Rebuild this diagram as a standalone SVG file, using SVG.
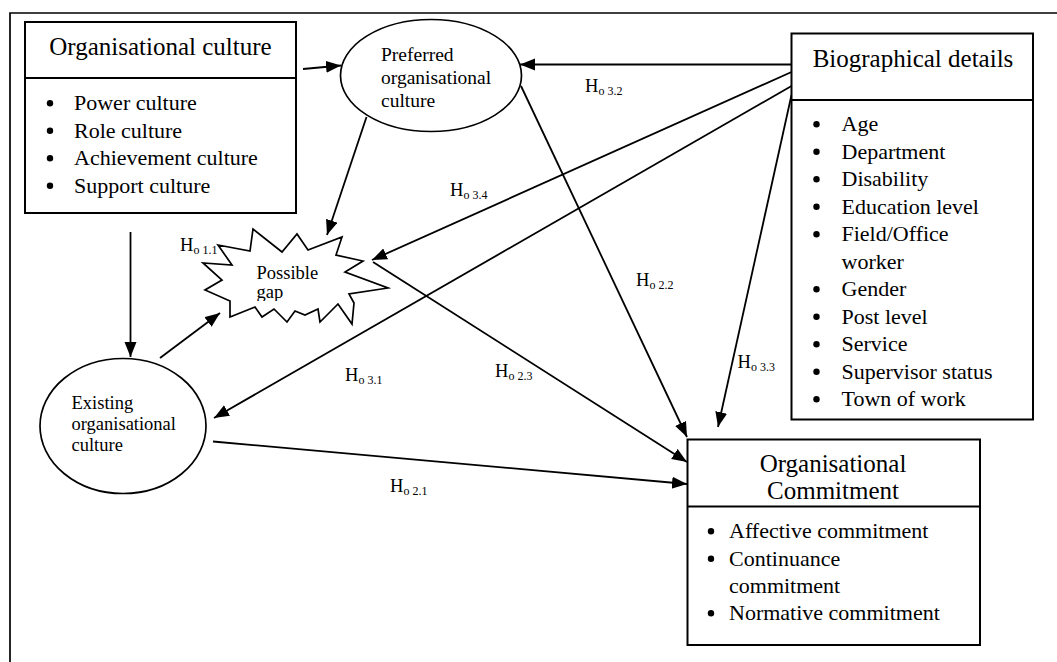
<svg xmlns="http://www.w3.org/2000/svg" width="1057" height="662" viewBox="0 0 1057 662">
  <defs>
    <marker id="arrow" markerUnits="userSpaceOnUse" markerWidth="16" markerHeight="13" refX="15" refY="6" orient="auto">
      <path d="M0,0 L15,6 L0,12 Z" fill="#000"/>
    </marker>
    <clipPath id="gapClip">
      <rect x="240" y="255" width="120" height="46"/>
    </clipPath>
  </defs>
  <style>
    text { font-family: "Liberation Serif", "Times New Roman", serif; fill: #000; }
    .box { fill: #fff; stroke: #000; stroke-width: 2; }
    .shape { fill: #fff; stroke: #000; stroke-width: 1.7; }
    .rule { stroke: #000; stroke-width: 2; }
    .title { font-size: 25px; }
    .item { font-size: 22px; }
    .dot { fill: #000; }
    .oval { font-size: 19.5px; }
    .oval-s { font-size: 18.5px; }
    .hyp { font-size: 18.5px; }
    .sub { font-size: 12px; }
    .link { fill: none; stroke: #000; stroke-width: 1.8; marker-end: url(#arrow); }
  </style>

  <rect width="1057" height="662" fill="#fff"/>
  <!-- frame -->
  <path d="M10,662 V13 H1057" fill="none" stroke="#000" stroke-width="1.7"/>

  <!-- connectors -->
  <g id="connectors">
    <line class="link" x1="303" y1="69" x2="341" y2="65.5"/>
    <line class="link" x1="791.5" y1="64.5" x2="520" y2="64.5"/>
    <line class="link" x1="791.5" y1="72" x2="372" y2="260"/>
    <line class="link" x1="791.5" y1="86" x2="214" y2="418"/>
    <line class="link" x1="791.5" y1="95" x2="718" y2="427"/>
    <line class="link" x1="366.5" y1="117" x2="327" y2="235"/>
    <line class="link" x1="521" y1="86" x2="687" y2="437"/>
    <line class="link" x1="373" y1="262" x2="687" y2="462"/>
    <line class="link" x1="213" y1="441.5" x2="687" y2="484"/>
    <line class="link" x1="130.5" y1="232" x2="130.5" y2="357"/>
    <line class="link" x1="160" y1="358" x2="220" y2="313"/>
  </g>

  <!-- hypothesis labels -->
  <g id="labels">
    <text class="hyp" x="585" y="91.5">H<tspan class="sub" dy="3">o 3.2</tspan></text>
    <text class="hyp" x="450" y="195.5">H<tspan class="sub" dy="3">o 3.4</tspan></text>
    <text class="hyp" x="180" y="251">H<tspan class="sub" dy="3">o 1.1</tspan></text>
    <text class="hyp" x="636" y="286">H<tspan class="sub" dy="3">o 2.2</tspan></text>
    <text class="hyp" x="495" y="376.5">H<tspan class="sub" dy="3">o 2.3</tspan></text>
    <text class="hyp" x="345" y="380.5">H<tspan class="sub" dy="3">o 3.1</tspan></text>
    <text class="hyp" x="737.5" y="368">H<tspan class="sub" dy="3">o 3.3</tspan></text>
    <text class="hyp" x="390" y="491.5">H<tspan class="sub" dy="3">o 2.1</tspan></text>
  </g>

  <!-- Organisational culture -->
  <g id="org-culture">
    <rect class="box" x="25" y="22" width="271" height="191"/>
    <line class="rule" x1="25" y1="78" x2="296" y2="78"/>
    <text class="title" x="160.5" y="55" text-anchor="middle">Organisational culture</text>
    <g class="dot">
      <circle cx="50" cy="103.3" r="3.2"/>
      <circle cx="50" cy="130.8" r="3.2"/>
      <circle cx="50" cy="158.3" r="3.2"/>
      <circle cx="50" cy="185.8" r="3.2"/>
    </g>
    <g class="item">
      <text x="74" y="110">Power culture</text>
      <text x="74" y="137.5">Role culture</text>
      <text x="74" y="165">Achievement culture</text>
      <text x="74" y="192.5">Support culture</text>
    </g>
  </g>

  <!-- Preferred organisational culture -->
  <g id="preferred-culture">
    <ellipse class="shape" cx="431" cy="75.5" rx="90.5" ry="56"/>
    <text class="oval" x="381" y="61">Preferred</text>
    <text class="oval" x="381" y="84">organisational</text>
    <text class="oval" x="381" y="107">culture</text>
  </g>

  <!-- Possible gap -->
  <g id="possible-gap">
    <polygon class="shape" points="218,245 250,251 253,229 282,252 297,234 308,250 342,237 336,255 363,261 345,272 388,288 349,294 354,303 352,324 338,304 320,322 318,309 305,315 295,311 287,322 274,309 262,317 255,307 230,317 230,301 205,290 222,280 203,263 232,265"/>
    <g clip-path="url(#gapClip)">
      <text class="oval-s" x="256.5" y="279">Possible</text>
      <text class="oval-s" x="256.5" y="298">gap</text>
    </g>
  </g>

  <!-- Existing organisational culture -->
  <g id="existing-culture">
    <ellipse class="shape" cx="123" cy="426" rx="83" ry="67.5"/>
    <text class="oval-s" x="71.5" y="409">Existing</text>
    <text class="oval-s" x="71.5" y="430">organisational</text>
    <text class="oval-s" x="71.5" y="450.5">culture</text>
  </g>

  <!-- Biographical details -->
  <g id="biographical">
    <rect class="box" x="791.5" y="33.5" width="241.5" height="386"/>
    <line class="rule" x1="791.5" y1="100" x2="1033" y2="100"/>
    <text class="title" x="913" y="66.5" text-anchor="middle">Biographical details</text>
    <g class="dot">
      <circle cx="816.5" cy="124.3" r="3.2"/>
      <circle cx="816.5" cy="151.8" r="3.2"/>
      <circle cx="816.5" cy="179.3" r="3.2"/>
      <circle cx="816.5" cy="206.8" r="3.2"/>
      <circle cx="816.5" cy="234.3" r="3.2"/>
      <circle cx="816.5" cy="289.3" r="3.2"/>
      <circle cx="816.5" cy="316.8" r="3.2"/>
      <circle cx="816.5" cy="344.3" r="3.2"/>
      <circle cx="816.5" cy="371.8" r="3.2"/>
      <circle cx="816.5" cy="399.3" r="3.2"/>
    </g>
    <g class="item">
      <text x="841.5" y="131">Age</text>
      <text x="841.5" y="158.5">Department</text>
      <text x="841.5" y="186">Disability</text>
      <text x="841.5" y="213.5">Education level</text>
      <text x="841.5" y="241">Field/Office</text>
      <text x="841.5" y="268.5">worker</text>
      <text x="841.5" y="296">Gender</text>
      <text x="841.5" y="323.5">Post level</text>
      <text x="841.5" y="351">Service</text>
      <text x="841.5" y="378.5">Supervisor status</text>
      <text x="841.5" y="406">Town of work</text>
    </g>
  </g>

  <!-- Organisational commitment -->
  <g id="org-commitment">
    <rect class="box" x="687.5" y="439.5" width="292.5" height="205.5"/>
    <line class="rule" x1="687.5" y1="506.5" x2="980" y2="506.5"/>
    <text class="title" x="833" y="471.5" text-anchor="middle">Organisational</text>
    <text class="title" x="833" y="499" text-anchor="middle">Commitment</text>
    <g class="dot">
      <circle cx="711" cy="531.3" r="3.2"/>
      <circle cx="711" cy="558.8" r="3.2"/>
      <circle cx="711" cy="613.3" r="3.2"/>
    </g>
    <g class="item">
      <text x="729" y="538">Affective commitment</text>
      <text x="729" y="565.5">Continuance</text>
      <text x="729" y="592.5">commitment</text>
      <text x="729" y="620">Normative commitment</text>
    </g>
  </g>
</svg>
